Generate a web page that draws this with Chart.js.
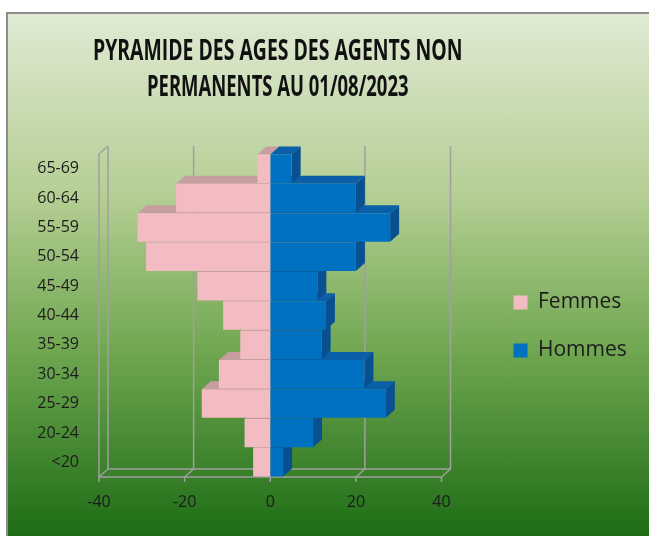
<!DOCTYPE html>
<html>
<head>
<meta charset="utf-8">
<script src="https://cdn.jsdelivr.net/npm/chart.js@4.4.0/dist/chart.umd.min.js"></script>
<style>
  body { margin: 0; background: #fff; }
  #frame {
    position: absolute; left: 6px; top: 12px;
    width: 643px; height: 524px; box-sizing: border-box;
    border-left: 2px solid #8c8c8c; border-top: 2px solid #8c8c8c;
    background: linear-gradient(#e0ead4 0%, #b4ce93 35%, #6fa650 65%, #1d6c15 100%);
  }
  #chart { display: block; }
</style>
</head>
<body>
<div id="frame"><canvas id="chart" width="641" height="522"></canvas></div>
<script>
// age groups, bottom to top
const ageGroups = ['<20', '20-24', '25-29', '30-34', '35-39', '40-44', '45-49', '50-54', '55-59', '60-64', '65-69'];
const femmes = [4, 6, 16, 12, 7, 11, 17, 29, 31, 22, 3];
const hommes = [3, 10, 27, 22, 12, 13, 11, 20, 28, 20, 5];
const xTicks = [-40, -20, 0, 20, 40];
const titleLine1 = 'PYRAMIDE DES AGES DES AGENTS NON';
const titleLine2 = 'PERMANENTS AU 01/08/2023';

const depthX = 9, depthY = 8;
const pink = '#f3bcc2', pinkTop = '#c79ea0';
const blue = '#0070c0', blueTop = '#0a5fa8', blueSide = '#08508f';

// back walls, floor and the top/side faces of the bars
const bar3d = {
  id: 'bar3d',
  beforeDatasetsDraw(chart) {
    const ctx = chart.ctx;
    const { left, right, top, bottom } = chart.chartArea;
    const xs = chart.scales.x;
    ctx.save();
    ctx.strokeStyle = '#a0a0a0';
    ctx.lineWidth = 1.5;
    xTicks.forEach(v => {
      const px = xs.getPixelForValue(v);
      ctx.beginPath();
      ctx.moveTo(px, bottom + 5);
      ctx.lineTo(px, bottom);
      ctx.lineTo(px + depthX, bottom - depthY);
      ctx.lineTo(px + depthX, top - depthY);
      ctx.stroke();
    });
    ctx.beginPath();
    ctx.moveTo(left, bottom); ctx.lineTo(right, bottom);
    ctx.moveTo(left + depthX, bottom - depthY); ctx.lineTo(right + depthX, bottom - depthY);
    // left wall
    ctx.moveTo(left, bottom); ctx.lineTo(left, top);
    ctx.lineTo(left + depthX, top - depthY);
    ctx.stroke();

    const metaF = chart.getDatasetMeta(0).data;
    const metaH = chart.getDatasetMeta(1).data;
    for (let i = 0; i < ageGroups.length; i++) {
      [[metaF[i], pinkTop, null], [metaH[i], blueTop, blueSide]].forEach(([el, topCol, sideCol]) => {
        const x0 = Math.min(el.x, el.base), x1 = Math.max(el.x, el.base);
        const y0 = el.y - el.height / 2, y1 = el.y + el.height / 2;
        ctx.fillStyle = topCol;
        ctx.beginPath();
        ctx.moveTo(x0, y0); ctx.lineTo(x1, y0);
        ctx.lineTo(x1 + depthX, y0 - depthY); ctx.lineTo(x0 + depthX, y0 - depthY);
        ctx.closePath(); ctx.fill();
        if (sideCol) {
          ctx.fillStyle = sideCol;
          ctx.beginPath();
          ctx.moveTo(x1, y0); ctx.lineTo(x1 + depthX, y0 - depthY);
          ctx.lineTo(x1 + depthX, y1 - depthY); ctx.lineTo(x1, y1);
          ctx.closePath(); ctx.fill();
        }
      });
    }
    ctx.restore();
  }
};

// nudge title, subtitle and legend boxes like the Excel layout
// (the title text gets squeezed to its box width, which gives the condensed look)
const placeBoxes = {
  id: 'placeBoxes',
  afterLayout(chart) {
    const area = chart.chartArea;
    const t = chart.titleBlock;
    t.left = area.left - 6; t.right = area.right + 21; t.width = t.right - t.left;
    const sub = chart.boxes.find(b => b !== t && b.options && b.options.text === titleLine2);
    if (sub) { sub.left = area.left + 48; sub.right = area.right - 33; sub.width = sub.right - sub.left; }
    const lg = chart.legend;
    lg.left += 45; lg.right += 45;
    lg.top += 11; lg.bottom += 11;
  }
};

new Chart(document.getElementById('chart'), {
  type: 'bar',
  data: {
    labels: ageGroups,
    datasets: [
      { label: 'Femmes', data: femmes.map(v => -v), backgroundColor: pink },
      { label: 'Hommes', data: hommes, backgroundColor: blue }
    ]
  },
  options: {
    indexAxis: 'y',
    responsive: false,
    animation: false,
    barPercentage: 0.97,
    categoryPercentage: 1,
    layout: { padding: { left: 0, right: 63, top: 0, bottom: 0 } },
    scales: {
      x: {
        stacked: true, min: -40, max: 40,
        afterBuildTicks: s => { s.ticks = xTicks.map(v => ({ value: v })); },
        grid: { display: false, drawTicks: false },
        border: { display: false },
        ticks: { padding: 16, color: '#1c1c1c', font: { family: 'Open Sans', size: 16 } },
        afterFit: s => { s.height = 59; }
      },
      y: {
        stacked: true, reverse: true,
        grid: { display: false, drawTicks: false },
        border: { display: false },
        ticks: { padding: 20, color: '#1c1c1c', font: { family: 'Open Sans', size: 16 } },
        afterFit: s => { s.width = 91; }
      }
    },
    plugins: {
      title: {
        display: true,
        fullSize: false,
        text: titleLine1,
        color: '#111',
        font: { family: 'Open Sans', size: 28, weight: 'bold', lineHeight: 1.286 },
        padding: { top: 20, bottom: 0 }
      },
      subtitle: {
        display: true,
        fullSize: false,
        text: titleLine2,
        color: '#111',
        font: { family: 'Open Sans', size: 28, weight: 'bold', lineHeight: 1.286 },
        padding: { top: 0, bottom: 48 }
      },
      legend: {
        position: 'right',
        fullSize: false,
        labels: {
          boxWidth: 14, boxHeight: 14, padding: 27,
          color: '#1c1c1c', font: { family: 'Open Sans', size: 21 }
        }
      },
      tooltip: { enabled: false }
    }
  },
  plugins: [bar3d, placeBoxes]
});
</script>
</body>
</html>
